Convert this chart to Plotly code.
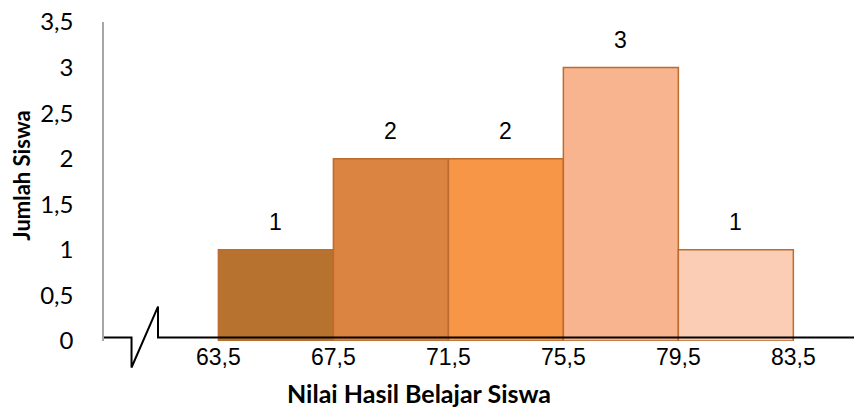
import plotly.graph_objects as go

# Class boundaries and frequencies of the score histogram
edges = [63.5, 67.5, 71.5, 75.5, 79.5, 83.5]
counts = [1, 2, 2, 3, 1]
edge_labels = ["63,5", "67,5", "71,5", "75,5", "79,5", "83,5"]
y_ticks = [0, 0.5, 1, 1.5, 2, 2.5, 3, 3.5]
y_tick_labels = ["0", "0,5", "1", "1,5", "2", "2,5", "3", "3,5"]
bar_colors = ["#B8722F", "#DB8340", "#F79646", "#F8B48F", "#FBCDB5"]

mids = [(a + b) / 2 for a, b in zip(edges[:-1], edges[1:])]
widths = [b - a for a, b in zip(edges[:-1], edges[1:])]

fig = go.Figure()
fig.add_trace(go.Bar(
    x=mids, y=counts, width=widths,
    marker=dict(color=bar_colors, line=dict(color="#BC6C2C", width=1.5)),
    hoverinfo="skip",
))

for m, c in zip(mids, counts):
    fig.add_annotation(x=m, y=c, text=str(c), showarrow=False, yshift=28,
                       font=dict(family="Liberation Sans", size=23, color="#000"))

# Horizontal axis with a break mark near the origin
fig.add_shape(type="path", xref="paper", yref="paper",
              path="M 0,0.011 L 0.0367,0.011 L 0.0367,-0.083 L 0.072,0.108 L 0.072,0.011 L 1,0.011",
              line=dict(color="#000", width=2))

# Axis titles
fig.add_annotation(text="<b>Nilai Hasil Belajar Siswa</b>", xref="paper", yref="paper",
                   x=(419 - 104) / 750, y=(341.5 - 394) / 319.5, showarrow=False,
                   xanchor="center", yanchor="middle",
                   font=dict(family="Lato", size=25, color="#000"))
fig.add_annotation(text="<b>Jumlah Siswa</b>", xref="paper", yref="paper",
                   x=(22 - 104) / 750, y=(341.5 - 176) / 319.5, showarrow=False,
                   textangle=-90, xanchor="center", yanchor="middle",
                   font=dict(family="Lato", size=22, color="#000"))

fig.update_layout(
    width=854, height=408,
    margin=dict(l=104, r=0, t=22, b=66.5),
    paper_bgcolor="white", plot_bgcolor="white",
    showlegend=False,
    xaxis=dict(range=[59.52, 85.61], tickvals=edges, ticktext=edge_labels,
               showgrid=False, zeroline=False, showline=False, ticks="",
               tickfont=dict(family="Liberation Sans", size=23, color="#000")),
    yaxis=dict(range=[0, 3.5], tickvals=y_ticks, ticktext=y_tick_labels,
               showgrid=False, zeroline=False, showline=True, ticks="",
               linecolor="#A6A6A6", linewidth=1.5, ticklabelstandoff=24,
               tickfont=dict(family="Lato", size=24, color="#000")),
)

fig.write_html("out.html")
